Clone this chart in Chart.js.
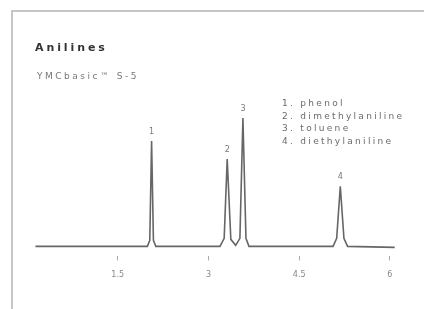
<!DOCTYPE html>
<html>
<head>
<meta charset="utf-8">
<script src="https://cdn.jsdelivr.net/npm/chart.js@4.4.1/dist/chart.umd.min.js"></script>
<style>
  body { margin: 0; background: #fff; }
  #wrap { width: 424px; height: 309px; }
</style>
</head>
<body>
<div id="wrap"><canvas id="grafico" width="424" height="309"></canvas></div>
<script>
// --- datos del cromatograma ---
const traceTime   = [0.14, 1.99, 2.03, 2.06, 2.09, 2.13, 3.19, 3.26, 3.31, 3.37, 3.45, 3.52, 3.57, 3.62, 3.67, 5.06, 5.12, 5.18, 5.24, 5.30, 6.08];
const traceSignal = [0,    0,    6,    105,  6,    0,    0,    8,    87,   7,    1,    8,    128,  8,    0,    0,    8,    60,   8,    0,    -1];

const peakNumbers = ['1', '2', '3', '4'];
const peakTimes   = [2.06, 3.31, 3.57, 5.18];
const peakHeights = [105, 87, 128, 60];
const compounds   = ['phenol', 'dimethylaniline', 'toluene', 'diethylaniline'];

const xTickValues = [1.5, 3, 4.5, 6];
const xTickLabels = ['1.5', '3', '4.5', '6'];

const titulo = 'Anilines';
const subtitulo = 'YMCbasic\u2122 S-5';

// marco, textos y numeros de pico
const extras = {
  id: 'extras',
  beforeDraw(chart) {
    const ctx = chart.ctx;
    ctx.save();
    ctx.strokeStyle = '#c6c6c6';
    ctx.lineWidth = 2;
    ctx.beginPath();
    ctx.moveTo(12, 309);
    ctx.lineTo(12, 11);
    ctx.lineTo(424, 11);
    ctx.stroke();
    ctx.restore();
  },
  afterDraw(chart) {
    const ctx = chart.ctx;
    const x = chart.scales.x, y = chart.scales.y;
    ctx.save();
    ctx.textBaseline = 'middle';

    ctx.fillStyle = '#333';
    ctx.font = 'bold 11px "DejaVu Sans"';
    ctx.letterSpacing = '2.9px';
    ctx.fillText(titulo, 35, 48);

    ctx.fillStyle = '#777';
    ctx.font = '9px "DejaVu Sans"';
    ctx.letterSpacing = '2.5px';
    ctx.fillText(subtitulo, 37, 77);

    ctx.fillStyle = '#6a6a6a';
    ctx.letterSpacing = '2.3px';
    compounds.forEach((c, i) => {
      ctx.fillText(peakNumbers[i] + '. ' + c, 282, 104 + i * 12.5);
    });

    ctx.letterSpacing = '0px';
    ctx.textAlign = 'center';
    ctx.font = '8px "DejaVu Sans"';
    ctx.fillStyle = '#777';
    peakNumbers.forEach((n, i) => {
      ctx.fillText(n, x.getPixelForValue(peakTimes[i]), y.getPixelForValue(peakHeights[i]) - 9);
    });
    ctx.restore();
  }
};

new Chart(document.getElementById('grafico'), {
  type: 'line',
  data: {
    datasets: [{
      data: traceTime.map((t, i) => ({ x: t, y: traceSignal[i] })),
      borderColor: '#666',
      borderWidth: 1.6,
      pointRadius: 0,
      tension: 0,
      fill: false
    }]
  },
  options: {
    responsive: false,
    animation: false,
    devicePixelRatio: 1,
    layout: { padding: { left: 27, right: 22, top: 106, bottom: 19 } },
    plugins: {
      legend: { display: false },
      title: { display: false },
      tooltip: { enabled: false }
    },
    scales: {
      x: {
        type: 'linear',
        min: 0,
        max: 6.2,
        afterBuildTicks: axis => { axis.ticks = xTickValues.map(v => ({ value: v })); },
        ticks: {
          autoSkip: false,
          maxRotation: 0,
          padding: 10,
          color: '#888',
          font: { family: 'DejaVu Sans', size: 8 },
          callback: v => xTickLabels[xTickValues.indexOf(v)]
        },
        grid: { display: true, drawOnChartArea: false, drawTicks: true, tickLength: 4, tickColor: '#aaa' },
        border: { display: false }
      },
      y: {
        display: false,
        min: -10,
        max: 140
      }
    }
  },
  plugins: [extras]
});
</script>
</body>
</html>
